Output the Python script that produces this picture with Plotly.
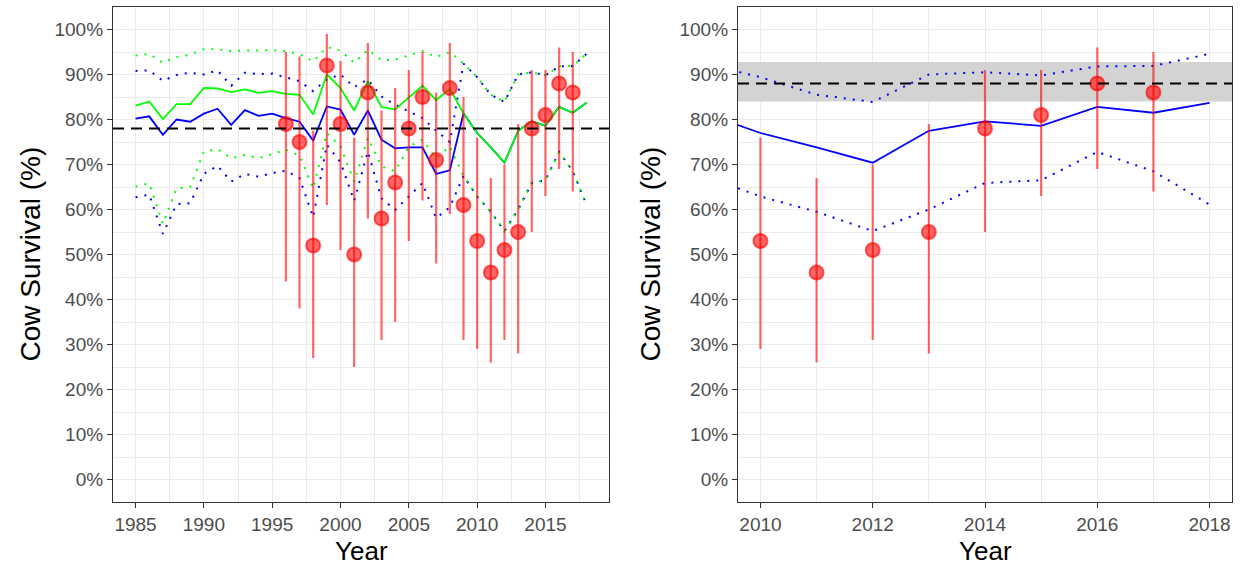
import plotly.graph_objects as go

# ---------------- data ----------------
years = list(range(1985, 2019))

blue_mean = [80.2, 80.7, 76.6, 80.0, 79.5, 81.3, 82.4, 78.8, 82.1, 80.8, 81.3, 80.3, 79.5, 75.3,
             82.9, 82.2, 76.6, 82.0, 75.5, 73.6, 73.8, 73.8, 67.9, 68.7, 81.4, 77.0, 73.8, 70.4,
             77.5, 79.6, 78.6, 82.8, 81.5, 83.7]
green_mean = [83.1, 84.0, 80.1, 83.4, 83.4, 87.0, 86.9, 86.1, 86.7, 85.9, 86.3, 85.7, 85.5, 81.1,
              90.0, 87.0, 82.0, 88.5, 82.8, 82.2, 84.9, 87.5, 84.3, 86.8, 81.4, 77.0, 73.8, 70.4,
              77.5, 79.6, 78.6, 82.8, 81.5, 83.7]
blue_upper = [90.8, 90.9, 88.6, 89.9, 90.4, 90.0, 90.9, 87.5, 90.4, 90.1, 90.2, 89.4, 88.5, 86.3,
              88.9, 90.0, 87.2, 88.9, 85.1, 83.3, 81.8, 80.3, 77.5, 75.0, 92.4, 89.4, 85.5, 83.9,
              90.0, 90.5, 89.8, 91.8, 91.9, 94.6]
blue_lower = [62.7, 63.3, 54.6, 61.2, 61.4, 67.9, 69.7, 66.2, 67.9, 67.3, 68.1, 68.6, 67.0, 58.3,
              74.4, 70.5, 61.9, 72.9, 62.5, 59.9, 62.9, 65.9, 58.1, 60.5, 67.5, 62.9, 59.5, 55.2,
              60.0, 65.9, 66.5, 72.8, 68.5, 61.1]
green_upper = [94.2, 94.6, 92.6, 93.9, 94.4, 95.6, 95.6, 95.2, 95.3, 95.3, 95.4, 95.2, 94.5, 92.9,
               96.1, 95.3, 92.6, 95.5, 93.2, 93.3, 94.2, 95.2, 93.9, 95.0, 92.4, 89.4, 85.5, 83.9,
               90.0, 90.5, 89.8, 91.8, 91.9, 94.6]
green_lower = [65.1, 65.8, 56.8, 64.7, 65.0, 72.9, 73.4, 71.4, 72.1, 71.4, 72.3, 73.3, 72.0, 64.7,
               77.0, 74.0, 66.2, 75.9, 69.6, 68.5, 74.0, 75.5, 71.4, 74.0, 67.5, 62.9, 59.5, 55.2,
               60.0, 65.9, 66.5, 72.8, 68.5, 61.1]

obs_years = list(range(1996, 2018))
obs_mean = [79, 75, 52, 92, 79, 50, 86, 58, 66, 78, 85, 71, 87, 61, 53, 46, 51, 55, 78, 81, 88, 86]
obs_lo = [44, 38, 27, 61, 51, 25, 58, 31, 35, 53, 62, 48, 59, 31, 29, 26, 31, 28, 55, 63, 69, 64]
obs_hi = [95, 94, 77.5, 99, 93, 76, 97, 82, 87, 91, 95, 86, 97, 85, 76, 67, 70, 79, 91, 91, 96, 95]

left_ref = 78
right_ref = 88
right_band = [84.0, 92.8]

left_xticks = [1985, 1990, 1995, 2000, 2005, 2010, 2015]
right_xticks = [2010, 2012, 2014, 2016, 2018]
y_ticks = list(range(0, 101, 10))
y_ticktext = [f"{v}%" for v in y_ticks]

# ---------------- style ----------------
BLUE = "#0000FF"
GREEN = "#00FF00"
RED_A = "rgba(255,0,0,0.6)"
FONT = "Liberation Sans, Arial, sans-serif"
DOT = "2px,7px"

fig = go.Figure()

# grey band in right panel (drawn first so it sits above the grid, below the data)
band_x = [years[0], years[-1] + 1, years[-1] + 1, years[0], years[0]]
band_y = [right_band[0], right_band[0], right_band[1], right_band[1], right_band[0]]
fig.add_trace(go.Scatter(x=band_x, y=band_y, xaxis="x2", yaxis="y2", mode="lines",
                         fill="toself", fillcolor="#D3D3D3", line=dict(width=0),
                         showlegend=False, hoverinfo="skip"))


def add_panel(xa, ya, yr_from):
    idx = [i for i, y in enumerate(years) if y >= yr_from]
    yy = [years[i] for i in idx]
    sel = lambda arr: [arr[i] for i in idx]
    common = dict(xaxis=xa, yaxis=ya, mode="lines", showlegend=False, hoverinfo="skip")
    fig.add_trace(go.Scatter(x=yy, y=sel(blue_upper), line=dict(color=BLUE, width=2, dash=DOT), **common))
    fig.add_trace(go.Scatter(x=yy, y=sel(blue_lower), line=dict(color=BLUE, width=2, dash=DOT), **common))
    if xa == "x":
        fig.add_trace(go.Scatter(x=yy, y=sel(green_upper), line=dict(color=GREEN, width=2, dash=DOT), **common))
        fig.add_trace(go.Scatter(x=yy, y=sel(green_lower), line=dict(color=GREEN, width=2, dash=DOT), **common))
    fig.add_trace(go.Scatter(x=yy, y=sel(blue_mean), line=dict(color=BLUE, width=1.8), **common))
    if xa == "x":
        fig.add_trace(go.Scatter(x=yy, y=sel(green_mean), line=dict(color=GREEN, width=1.8), **common))
    # observations
    oi = [i for i, y in enumerate(obs_years) if y >= yr_from + 1]
    ox = [obs_years[i] for i in oi]
    om = [obs_mean[i] for i in oi]
    up = [obs_hi[i] - obs_mean[i] for i in oi]
    dn = [obs_mean[i] - obs_lo[i] for i in oi]
    fig.add_trace(go.Scatter(
        x=ox, y=om, xaxis=xa, yaxis=ya, mode="markers", showlegend=False, hoverinfo="skip",
        marker=dict(color=RED_A, size=14, line=dict(color=RED_A, width=2)),
        error_y=dict(type="data", symmetric=False, array=up, arrayminus=dn,
                     color=RED_A, thickness=2.2, width=0)))


add_panel("x", "y", 1985)
add_panel("x2", "y2", 2009)

# reference lines
fig.add_shape(type="line", xref="x domain", yref="y", x0=0, x1=1, y0=left_ref, y1=left_ref,
              line=dict(color="black", width=2, dash="11px,7px"), layer="above")
fig.add_shape(type="line", xref="x2 domain", yref="y2", x0=0, x1=1, y0=right_ref, y1=right_ref,
              line=dict(color="black", width=2, dash="11px,7px"), layer="above")

W, H = 1242, 567
axis_common = dict(showgrid=True, gridcolor="#EBEBEB", gridwidth=1.1,
                   showline=True, linecolor="#333333", linewidth=1.2, mirror=True,
                   ticks="outside", ticklen=5, tickcolor="#333333", tickwidth=1.1,
                   tickfont=dict(family=FONT, size=19, color="#4D4D4D"),
                   zeroline=False)

lx0, lx1 = 113 / W, 609 / W
rx0, rx1 = 738 / W, 1232 / W
y0, y1 = 1 - 502 / H, 1 - 7 / H

fig.update_layout(
    width=W, height=H, margin=dict(l=0, r=0, t=0, b=0),
    paper_bgcolor="white", plot_bgcolor="white", showlegend=False,
    xaxis=dict(domain=[lx0, lx1], range=[1983.35, 2019.65], tickvals=left_xticks,
               minor=dict(dtick=2.5, tick0=1985, showgrid=True, gridcolor="#EBEBEB", gridwidth=0.55),
               anchor="y", **axis_common),
    yaxis=dict(domain=[y0, y1], range=[-5, 105], tickvals=y_ticks, ticktext=y_ticktext,
               minor=dict(dtick=5, tick0=0, showgrid=True, gridcolor="#EBEBEB", gridwidth=0.55),
               anchor="x", **axis_common),
    xaxis2=dict(domain=[rx0, rx1], range=[2009.6, 2018.4], tickvals=right_xticks,
                minor=dict(dtick=1, tick0=2010, showgrid=True, gridcolor="#EBEBEB", gridwidth=0.55),
                anchor="y2", **axis_common),
    yaxis2=dict(domain=[y0, y1], range=[-5, 105], tickvals=y_ticks, ticktext=y_ticktext,
                minor=dict(dtick=5, tick0=0, showgrid=True, gridcolor="#EBEBEB", gridwidth=0.55),
                anchor="x2", **axis_common),
)

title_font = dict(family=FONT, size=26, color="black")
for xc in [(lx0 + lx1) / 2, (rx0 + rx1) / 2]:
    fig.add_annotation(text="Year", x=xc, y=1 - 550.5 / H, xref="paper", yref="paper",
                       showarrow=False, font=title_font, xanchor="center", yanchor="middle")
for xc in [30 / W, 650 / W]:
    fig.add_annotation(text="Cow Survival (%)", x=xc, y=(y0 + y1) / 2, xref="paper", yref="paper",
                       showarrow=False, font=dict(family=FONT, size=28, color="black"), textangle=-90,
                       xanchor="center", yanchor="middle")

fig.write_html("out.html", config={"displayModeBar": False},
               post_script="document.body.style.margin='0px';")
